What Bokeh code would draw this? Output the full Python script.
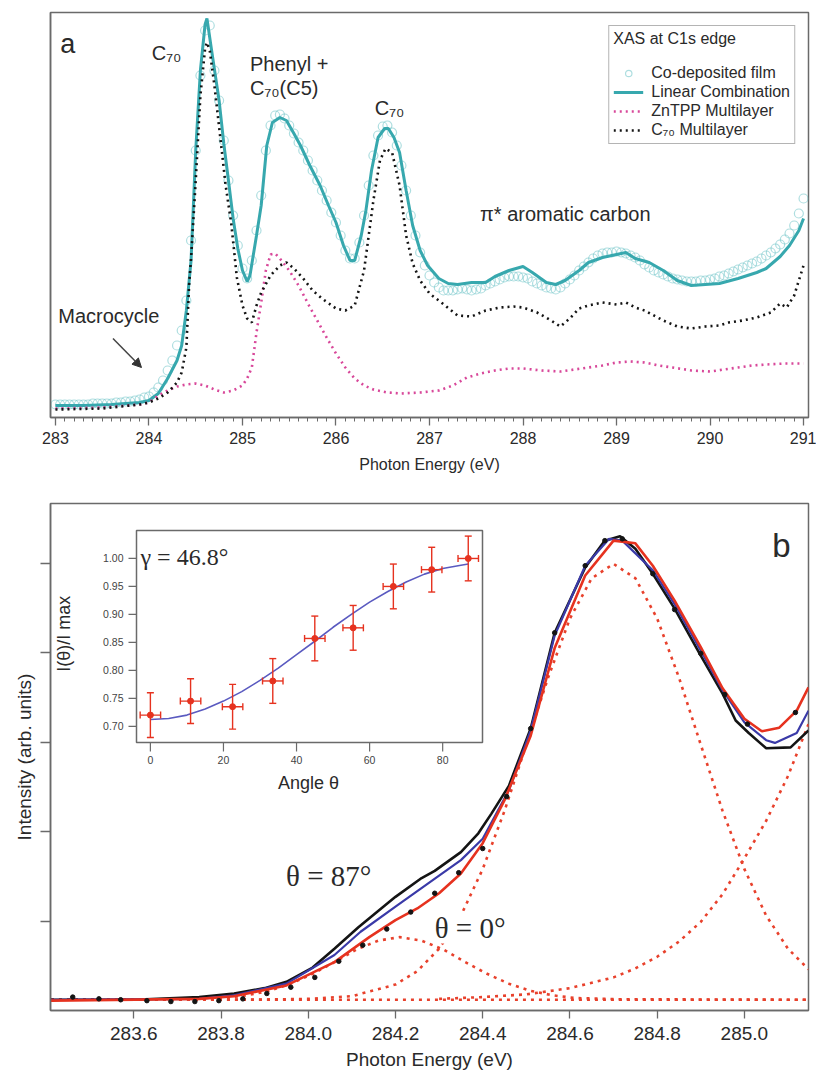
import math
from bokeh.plotting import figure
from bokeh.models import (Range1d, SingleIntervalTicker, FixedTicker, PrintfTickFormatter,
                          Arrow, NormalHead, Label)
from bokeh.layouts import column
from bokeh.core.properties import value
from bokeh.embed import file_html
from bokeh.resources import INLINE

SANS = "Liberation Sans"
SERIF = "Liberation Serif"

# ======================= PANEL a DATA (intensity, arb. units) =======================
lc_E = [283.0, 283.3, 283.6, 283.9, 284.0, 284.1, 284.2, 284.3, 284.35, 284.4, 284.45, 284.5, 284.55,
        284.6, 284.62, 284.67, 284.75, 284.8, 284.85, 284.9, 284.95, 285.0, 285.05, 285.08, 285.15,
        285.2, 285.26, 285.32, 285.4, 285.47, 285.55, 285.62, 285.72, 285.83, 285.92, 286.0, 286.08,
        286.15, 286.2, 286.27, 286.32, 286.38, 286.45, 286.52, 286.56, 286.62, 286.68, 286.75, 286.82,
        286.9, 286.98, 287.1, 287.2, 287.3, 287.45, 287.6, 287.7, 287.85, 288.0, 288.1, 288.25, 288.35,
        288.45, 288.6, 288.7, 288.85, 289.0, 289.1, 289.2, 289.35, 289.5, 289.65, 289.8, 289.95, 290.1,
        290.3, 290.5, 290.6, 290.75, 290.85, 290.95, 291.0]
lc_I = [12, 12, 13, 15, 17, 24, 39, 57, 72, 107, 157, 267, 347, 393, 399, 367, 317, 274, 237, 199,
        169, 147, 136, 142, 182, 212, 272, 295, 300, 297, 284, 272, 252, 232, 212, 195, 172, 157, 157,
        182, 207, 247, 280, 289, 289, 280, 265, 227, 192, 167, 152, 139, 134, 133, 135, 135, 141, 147,
        151, 145, 135, 133, 137, 147, 155, 160, 163, 165, 159, 155, 147, 137, 132, 133, 134, 139, 145,
        149, 161, 172, 187, 199]

# co-deposited film: sampled every 0.05 eV starting at 283.00 eV
film_E_start = 283.0
film_E_step = 0.05
film_I = [13, 13, 13, 13, 13, 13, 13, 13, 14, 14, 14, 14, 14, 15, 15, 16, 16, 17, 18, 20,
          21, 25, 30, 37, 47, 57, 72, 87, 117, 177, 267, 342, 387, 392, 347, 317, 277, 237, 202, 172,
          149, 139, 157, 187, 222, 267, 292, 302, 303, 299, 292, 284, 275, 267, 257, 247, 237, 227, 217, 205,
          195, 182, 167, 159, 159, 175, 202, 232, 262, 282, 291, 292, 285, 272, 252, 227, 202, 182, 165, 152,
          142, 135, 130, 127, 127, 127, 128, 129, 128, 127, 128, 129, 132, 134, 136, 138, 140, 141, 141, 141,
          140, 139, 136, 134, 132, 130, 129, 128, 130, 134, 138, 142, 147, 151, 155, 159, 162, 164, 165, 165,
          166, 165, 164, 162, 160, 157, 153, 150, 147, 145, 143, 141, 139, 138, 137, 136, 136, 136, 137, 137,
          138, 139, 141, 142, 144, 146, 148, 150, 152, 154, 156, 159, 162, 165, 169, 173, 178, 184, 192, 204,
          219]
film_E = [round(film_E_start + film_E_step * i, 2) for i in range(len(film_I))]

zntpp_E = [283.0, 283.5, 283.9, 284.0, 284.1, 284.2, 284.3, 284.4, 284.5, 284.6, 284.7, 284.8, 284.9,
           285.0, 285.05, 285.1, 285.15, 285.2, 285.25, 285.3, 285.35, 285.4, 285.5, 285.6, 285.7, 285.8,
           285.9, 286.0, 286.1, 286.2, 286.3, 286.4, 286.55, 286.7, 286.9, 287.1, 287.25, 287.4, 287.55,
           287.7, 287.85, 288.0, 288.2, 288.4, 288.55, 288.7, 288.85, 289.0, 289.15, 289.3, 289.45, 289.6,
           289.8, 290.0, 290.15, 290.3, 290.45, 290.6, 290.8, 291.0]
zntpp_I = [9, 10, 13, 15, 22, 27, 31, 33, 34, 32, 28, 25, 27, 32, 39, 50, 85, 115, 147, 163, 164, 159,
           147, 132, 114, 97, 80, 64, 50, 39, 32, 28, 25, 24, 25, 27, 32, 40, 44, 47, 49, 49, 47, 46, 48,
           50, 52, 55, 56, 55, 52, 50, 47, 46, 48, 50, 52, 53, 54, 54]

c70_E = [283.0, 283.5, 283.9, 284.0, 284.1, 284.2, 284.3, 284.35, 284.4, 284.43, 284.45, 284.5, 284.55,
         284.6, 284.62, 284.65, 284.7, 284.77, 284.82, 284.88, 284.94, 285.0, 285.05, 285.1, 285.15,
         285.2, 285.3, 285.4, 285.47, 285.55, 285.65, 285.75, 285.85, 286.0, 286.1, 286.2, 286.3, 286.4,
         286.47, 286.53, 286.6, 286.68, 286.75, 286.82, 286.9, 287.0, 287.14, 287.3, 287.45, 287.6,
         287.75, 287.9, 288.0, 288.15, 288.3, 288.4, 288.5, 288.6, 288.7, 288.85, 289.0, 289.1, 289.2,
         289.3, 289.5, 289.65, 289.8, 289.95, 290.1, 290.2, 290.35, 290.5, 290.65, 290.75, 290.82, 290.9,
         290.95, 291.0]
c70_I = [8, 9, 13, 15, 19, 25, 35, 45, 70, 134, 159, 237, 322, 369, 375, 367, 332, 274, 232, 194, 140,
         112, 99, 95, 112, 125, 142, 152, 155, 149, 139, 127, 119, 109, 107, 112, 147, 217, 257, 269, 265,
         232, 182, 154, 137, 124, 114, 102, 101, 107, 110, 111, 110, 105, 97, 91, 99, 109, 112, 115, 113,
         115, 110, 107, 97, 91, 89, 91, 92, 95, 97, 100, 105, 114, 110, 122, 137, 152]

# panel a annotation texts and anchor positions (eV, intensity)
a_lbl_text = ["C\u2087\u2080", "Phenyl +", "C\u2087\u2080(C5)", "C\u2087\u2080", "\u03c0* aromatic carbon", "Macrocycle"]
a_lbl_E = [284.03, 285.08, 285.08, 286.415, 287.54, 283.03]
a_lbl_I = [365, 354, 330, 310, 204, 102]
a_tag = ("a", 283.05, 374)
a_arrow = (283.615, 79, 283.92, 50)

# ======================= PANEL b DATA =======================
b_xticks = [283.6, 283.8, 284.0, 284.2, 284.4, 284.6, 284.8, 285.0]
b_yticks = [1, 2, 3, 4, 5]

b_black_E = [283.41, 283.6, 283.75, 283.83, 283.9, 283.95, 284.01, 284.06, 284.115, 284.2, 284.26, 284.29,
             284.35, 284.39, 284.42, 284.46, 284.51, 284.565, 284.635, 284.68, 284.715, 284.75, 284.79,
             284.84, 284.897, 284.95, 284.98, 285.01, 285.05, 285.106, 285.147]
b_black_I = [0.12, 0.12, 0.15, 0.19, 0.25, 0.32, 0.48, 0.69, 0.93, 1.27, 1.48, 1.56, 1.77, 1.98, 2.20,
             2.51, 3.15, 4.22, 4.95, 5.25, 5.30, 5.16, 4.88, 4.49, 3.99, 3.54, 3.24, 3.10, 2.93, 2.94, 3.13]

b_blue_E = [283.41, 283.75, 283.83, 283.95, 284.06, 284.12, 284.2, 284.35, 284.4, 284.46, 284.51, 284.565,
            284.635, 284.69, 284.72, 284.79, 284.84, 284.9, 284.95, 285.0, 285.05, 285.07, 285.12, 285.147]
b_blue_I = [0.12, 0.13, 0.17, 0.30, 0.62, 0.88, 1.16, 1.68, 1.92, 2.46, 3.13, 4.19, 4.97, 5.27, 5.25,
            4.92, 4.54, 4.02, 3.58, 3.22, 3.02, 2.99, 3.10, 3.35]

b_fit_E = [283.41, 283.75, 283.83, 283.95, 284.06, 284.14, 284.2, 284.25, 284.3, 284.35, 284.4, 284.45,
           284.51, 284.565, 284.635, 284.7, 284.75, 284.79, 284.84, 284.9, 284.95, 285.0, 285.04, 285.08,
           285.12, 285.147]
b_fit_I = [0.11, 0.13, 0.16, 0.28, 0.54, 0.82, 1.01, 1.14, 1.31, 1.53, 1.87, 2.35, 3.07, 4.05, 4.86,
           5.25, 5.22, 4.97, 4.58, 4.06, 3.60, 3.26, 3.12, 3.16, 3.35, 3.61]

b_dot_E = [283.46, 283.52, 283.57, 283.63, 283.685, 283.74, 283.795, 283.85, 283.905, 283.96, 284.015,
           284.07, 284.125, 284.18, 284.235, 284.29, 284.345, 284.40, 284.455, 284.51, 284.565, 284.635,
           284.68, 284.72, 284.79, 284.84, 284.90, 284.955, 285.007, 285.117]
b_dot_I = [0.15, 0.13, 0.12, 0.11, 0.10, 0.10, 0.11, 0.13, 0.19, 0.26, 0.37, 0.55, 0.73, 0.91, 1.10,
           1.31, 1.54, 1.81, 2.39, 3.15, 4.22, 4.97, 5.25, 5.27, 4.88, 4.48, 3.99, 3.53, 3.20, 3.33]

b_base_E = [283.41, 285.147]
b_base_I = [0.12, 0.12]
b_g1_E = [283.41, 283.71, 283.81, 283.86, 283.91, 283.96, 284.01, 284.06, 284.11, 284.16, 284.21, 284.26,
          284.31, 284.36, 284.41, 284.46, 284.51, 284.56, 284.61, 284.71, 285.147]
b_g1_I = [0.12, 0.126, 0.14, 0.17, 0.22, 0.30, 0.41, 0.54, 0.68, 0.78, 0.82, 0.78, 0.68, 0.54, 0.41,
          0.30, 0.22, 0.17, 0.14, 0.126, 0.12]
b_g2_E = [283.41, 283.9, 284.0, 284.1, 284.2, 284.25, 284.3, 284.35, 284.4, 284.45, 284.5, 284.55, 284.6,
          284.65, 284.7, 284.75, 284.8, 284.85, 284.9, 284.95, 285.0, 285.05, 285.1, 285.147]
b_g2_I = [0.12, 0.123, 0.13, 0.16, 0.29, 0.44, 0.69, 1.06, 1.58, 2.23, 2.97, 3.72, 4.38, 4.83, 4.99,
          4.83, 4.38, 3.72, 2.97, 2.23, 1.58, 1.06, 0.69, 0.46]
b_g3_E = [284.3, 284.4, 284.5, 284.6, 284.7, 284.75, 284.8, 284.85, 284.9, 284.95, 285.0, 285.05, 285.1, 285.147]
b_g3_I = [0.13, 0.15, 0.18, 0.25, 0.37, 0.47, 0.60, 0.77, 0.99, 1.30, 1.70, 2.12, 2.62, 3.20]

b_tag = ("b", 285.064, 5.196)
b_lbl87 = ("\u03b8 = 87\u00b0", 283.949, 1.508)
b_lbl0 = ("\u03b8 = 0\u00b0", 284.29, 0.927)

# inset data
ins_theta = [0, 11, 22.5, 33.5, 45, 55.5, 66.5, 77, 87]
ins_ratio = [0.72, 0.745, 0.735, 0.781, 0.857, 0.876, 0.95, 0.98, 1.0]
ins_ratio_err = [0.04, 0.04, 0.04, 0.04, 0.04, 0.04, 0.04, 0.04, 0.04]
ins_theta_err = [2.8, 2.8, 2.8, 2.8, 2.8, 2.8, 2.8, 2.8, 2.8]
ins_fit_theta = [0, 5, 10, 15, 20, 25, 30, 35, 40, 45, 50, 55, 60, 65, 70, 75, 80, 85, 87]
ins_fit_ratio = [0.712, 0.714, 0.720, 0.731, 0.745, 0.762, 0.782, 0.804, 0.828, 0.852, 0.877, 0.900,
                 0.922, 0.941, 0.958, 0.972, 0.982, 0.988, 0.990]
ins_xticks = [0, 20, 40, 60, 80]
ins_yticks = [0.70, 0.75, 0.80, 0.85, 0.90, 0.95, 1.00]
ins_xrange = (-3.8, 90.9)
ins_yrange = (0.671, 1.05)
ins_gamma = "\u03b3 = 46.8\u00b0"

# ======================= STYLE =======================
TEAL = "#37a8ae"
FILM = "#6cc2c6"
PINK = "#d8489a"
BLACK = "#141414"
BLUE = "#3a3aa8"
RED = "#e6321f"
REDDOT = "#e8412c"
FRAME = "#6a6a6a"
TXT = "#2a2a2a"


def style_axis(ax, tick_size, label_size):
    ax.axis_line_color = FRAME
    ax.axis_line_width = 1.5
    ax.major_tick_line_color = FRAME
    ax.minor_tick_line_color = FRAME
    ax.major_tick_line_width = 1.3
    ax.major_tick_in = 0
    ax.minor_tick_in = 0
    ax.major_label_text_font = SANS
    ax.major_label_text_font_size = tick_size
    ax.major_label_text_color = TXT
    ax.axis_label_text_font = SANS
    ax.axis_label_text_font_size = label_size
    ax.axis_label_text_font_style = "normal"
    ax.axis_label_text_color = TXT


# ======================= PANEL a =======================
A_XR = (282.947, 291.053)
A_YR = (0, 405)
pa = figure(width=816, height=490, x_range=Range1d(*A_XR), y_range=Range1d(*A_YR),
            output_backend="svg", toolbar_location=None,
            min_border_left=45, min_border_right=7, min_border_top=12, min_border_bottom=73)
pa.xgrid.visible = False
pa.ygrid.visible = False
pa.outline_line_color = FRAME
pa.outline_line_width = 1.5
pa.background_fill_color = "white"

xa = pa.xaxis[0]
style_axis(xa, "16px", "16px")
xa.ticker = SingleIntervalTicker(interval=1, num_minor_ticks=10)
xa.major_tick_out = 8
xa.minor_tick_out = 4
xa.major_label_standoff = 6
xa.axis_label = "Photon Energy (eV)"
xa.axis_label_standoff = 9

ya = pa.yaxis[0]
style_axis(ya, "1px", "14px")
ya.ticker = FixedTicker(ticks=[])
ya.major_label_text_color = None
ya.major_tick_out = 0
ya.minor_tick_out = 0
ya.major_label_standoff = 0

# y title of panel a: rotated label left of the frame, a little above the frame centre
# (anchor 33.5 px from the page edge puts the rotated text's centre ~22 px from it)
a_px_per_eV = 764 / (A_XR[1] - A_XR[0])
pa.add_layout(Label(x=A_XR[0] - 11.5 / a_px_per_eV, y=219, text="Intensity (arb. units)",
                    angle=math.pi / 2, text_font=SANS, text_font_size="14px", text_color=TXT,
                    text_align="center", text_baseline="middle"))

pa.scatter(film_E, film_I, marker="circle", size=9, fill_color=None, line_color=FILM,
           line_alpha=0.55, line_width=1.2, legend_label="Co-deposited film")
pa.line(lc_E, lc_I, line_color=TEAL, line_width=3, legend_label="Linear Combination")
pa.line(zntpp_E, zntpp_I, line_color=PINK, line_width=2.6, line_dash="2 4", legend_label="ZnTPP Multilayer")
pa.line(c70_E, c70_I, line_color=BLACK, line_width=2.6, line_dash="2 4", legend_label="C\u2087\u2080 Multilayer")

lg = pa.legend[0]
lg.location = "top_right"
lg.title = "XAS at C1s edge"
lg.title_text_font = SANS
lg.title_text_font_size = "16px"
lg.title_text_font_style = "normal"
lg.title_text_color = TXT
lg.title_standoff = 16
lg.label_text_font = SANS
lg.label_text_font_size = "16px"
lg.label_text_color = TXT
lg.glyph_width = 30
lg.glyph_height = 16
lg.label_height = 16
lg.label_standoff = 8
lg.spacing = 1
lg.padding = 4
lg.margin = 13
lg.border_line_color = FRAME
lg.border_line_width = 1.5
lg.background_fill_alpha = 1.0

pa.text(a_lbl_E, a_lbl_I, text=a_lbl_text, text_font=value(SANS), text_font_size="20px",
        text_color=TXT, text_baseline="middle", text_align="left")
pa.text([a_tag[1]], [a_tag[2]], text=[a_tag[0]], text_font=value(SANS), text_font_size="27px",
        text_color=TXT, text_baseline="middle", text_align="left")
pa.add_layout(Arrow(end=NormalHead(size=9, fill_color="#333333", line_color="#333333"),
                    x_start=a_arrow[0], y_start=a_arrow[1], x_end=a_arrow[2], y_end=a_arrow[3],
                    line_color="#444444", line_width=1.5))

# ======================= PANEL b =======================
pb = figure(width=816, height=586, x_range=Range1d(283.409, 285.147), y_range=Range1d(0, 5.665),
            output_backend="svg", toolbar_location=None,
            min_border_left=50, min_border_right=8, min_border_top=13, min_border_bottom=66)
pb.xgrid.visible = False
pb.ygrid.visible = False
pb.outline_line_color = FRAME
pb.outline_line_width = 1.5

xb = pb.xaxis[0]
style_axis(xb, "19px", "19px")
xb.ticker = FixedTicker(ticks=b_xticks, minor_ticks=[])
xb.formatter = PrintfTickFormatter(format="%.1f")
xb.major_tick_out = 8
xb.major_label_standoff = 8
xb.axis_label = "Photon Energy (eV)"
xb.axis_label_standoff = 6

yb = pb.yaxis[0]
style_axis(yb, "1px", "19px")
yb.ticker = FixedTicker(ticks=b_yticks, minor_ticks=[])
yb.major_label_text_color = None
yb.major_tick_out = 10
yb.major_label_standoff = 0
yb.axis_label = "Intensity (arb. units)"
yb.axis_label_standoff = 6

# inset coordinate system laid into the panel-b frame (page pixel boxes)
FR_L, FR_R, FR_T, FR_B = 50, 808, 503, 1010
IN_L, IN_R, IN_T, IN_B = 136, 482, 530, 742
ix_ppu = (IN_R - IN_L) / (ins_xrange[1] - ins_xrange[0])
iy_ppu = (IN_B - IN_T) / (ins_yrange[1] - ins_yrange[0])
pb.extra_x_ranges = {"ix": Range1d(ins_xrange[0] - (IN_L - FR_L) / ix_ppu, ins_xrange[1] + (FR_R - IN_R) / ix_ppu)}
pb.extra_y_ranges = {"iy": Range1d(ins_yrange[0] - (FR_B - IN_B) / iy_ppu, ins_yrange[1] + (IN_T - FR_T) / iy_ppu)}

dot_kw = dict(line_color=REDDOT, line_width=2.6, line_dash="3 5")
pb.line(b_base_E, b_base_I, **dot_kw)
pb.line(b_g1_E, b_g1_I, **dot_kw)
pb.line(b_g2_E, b_g2_I, **dot_kw)
pb.line(b_g3_E, b_g3_I, **dot_kw)
pb.line(b_black_E, b_black_I, line_color=BLACK, line_width=2.6)
pb.line(b_blue_E, b_blue_I, line_color=BLUE, line_width=2.2)
pb.line(b_fit_E, b_fit_I, line_color=RED, line_width=2.6)
pb.scatter(b_dot_E, b_dot_I, marker="circle", size=4.5, color=BLACK)

pb.text([b_tag[1]], [b_tag[2]], text=[b_tag[0]], text_font=value(SANS), text_font_size="33px",
        text_color=TXT, text_baseline="middle", text_align="left")
pb.text([b_lbl87[1]], [b_lbl87[2]], text=[b_lbl87[0]], text_font=value(SERIF), text_font_size="29px",
        text_color=TXT, text_baseline="middle", text_align="left")
pb.add_layout(Label(x=b_lbl0[1], y=b_lbl0[2], text=b_lbl0[0], text_font=SERIF, text_font_size="29px",
                    text_color=TXT, text_baseline="middle", text_align="left",
                    background_fill_color="white", background_fill_alpha=1.0))

# ---- inset ----
IK = dict(x_range_name="ix", y_range_name="iy")
pb.quad(left=[ins_xrange[0]], right=[ins_xrange[1]], bottom=[ins_yrange[0]], top=[ins_yrange[1]],
        fill_color="white", line_color=FRAME, line_width=1.5, **IK)
# y ticks
tk_y0 = [ins_xrange[0]] * len(ins_yticks)
tk_y1 = [ins_xrange[0] - 8 / ix_ppu] * len(ins_yticks)
pb.segment(x0=tk_y0, y0=ins_yticks, x1=tk_y1, y1=ins_yticks, line_color=FRAME, line_width=1.2, **IK)
pb.text([ins_xrange[0] - 13 / ix_ppu] * len(ins_yticks), ins_yticks, text=["%.2f" % t for t in ins_yticks],
        text_font=value(SANS), text_font_size="10.5px", text_color="#444444",
        text_baseline="middle", text_align="right", **IK)
# x ticks
tk_x0 = [ins_yrange[0]] * len(ins_xticks)
tk_x1 = [ins_yrange[0] - 9 / iy_ppu] * len(ins_xticks)
pb.segment(x0=ins_xticks, y0=tk_x0, x1=ins_xticks, y1=tk_x1, line_color=FRAME, line_width=1.2, **IK)
pb.text(ins_xticks, [ins_yrange[0] - 17 / iy_ppu] * len(ins_xticks), text=["%d" % t for t in ins_xticks],
        text_font=value(SANS), text_font_size="10.5px", text_color="#444444",
        text_baseline="middle", text_align="center", **IK)
# inset axis titles (anchor chosen so that the rotated title lands ~59 px left of the inset frame)
pb.text([ins_xrange[0] - 72.5 / ix_ppu], [(ins_yrange[0] + ins_yrange[1]) / 2 + 0.005], text=["I(\u03b8)/I max"],
        angle=math.pi / 2, text_font=value(SANS), text_font_size="18px",
        text_color=TXT, text_align="center", text_baseline="middle", **IK)
pb.text([ins_xrange[0] + 172 / ix_ppu], [ins_yrange[0] - 40 / iy_ppu], text=["Angle \u03b8"],
        text_font=value(SANS), text_font_size="18px", text_color=TXT,
        text_baseline="middle", text_align="center", **IK)

pb.line(ins_fit_theta, ins_fit_ratio, line_color="#5a5ac0", line_width=1.6, **IK)

# error bars (drawn as segments in the inset coordinates)
cap_w = 3.5 / ix_ppu
cap_h = 3.5 / iy_ppu
r_lo = [r - e for r, e in zip(ins_ratio, ins_ratio_err)]
r_hi = [r + e for r, e in zip(ins_ratio, ins_ratio_err)]
t_lo = [t - e for t, e in zip(ins_theta, ins_theta_err)]
t_hi = [t + e for t, e in zip(ins_theta, ins_theta_err)]
EB = dict(line_color=RED, line_width=1.4, **IK)
pb.segment(x0=ins_theta, y0=r_lo, x1=ins_theta, y1=r_hi, **EB)
pb.segment(x0=[t - cap_w for t in ins_theta], y0=r_lo, x1=[t + cap_w for t in ins_theta], y1=r_lo, **EB)
pb.segment(x0=[t - cap_w for t in ins_theta], y0=r_hi, x1=[t + cap_w for t in ins_theta], y1=r_hi, **EB)
pb.segment(x0=t_lo, y0=ins_ratio, x1=t_hi, y1=ins_ratio, **EB)
pb.segment(x0=t_lo, y0=[r - cap_h for r in ins_ratio], x1=t_lo, y1=[r + cap_h for r in ins_ratio], **EB)
pb.segment(x0=t_hi, y0=[r - cap_h for r in ins_ratio], x1=t_hi, y1=[r + cap_h for r in ins_ratio], **EB)
pb.scatter(ins_theta, ins_ratio, marker="circle", size=6, color=RED, **IK)
pb.text([ins_xrange[0] + 1.1], [1.002], text=[ins_gamma], text_font=value(SERIF), text_font_size="24px",
        text_color=TXT, text_baseline="middle", text_align="left", **IK)

layout = column(pa, pb, spacing=0)
open("out.html", "w").write(file_html(layout, INLINE))
